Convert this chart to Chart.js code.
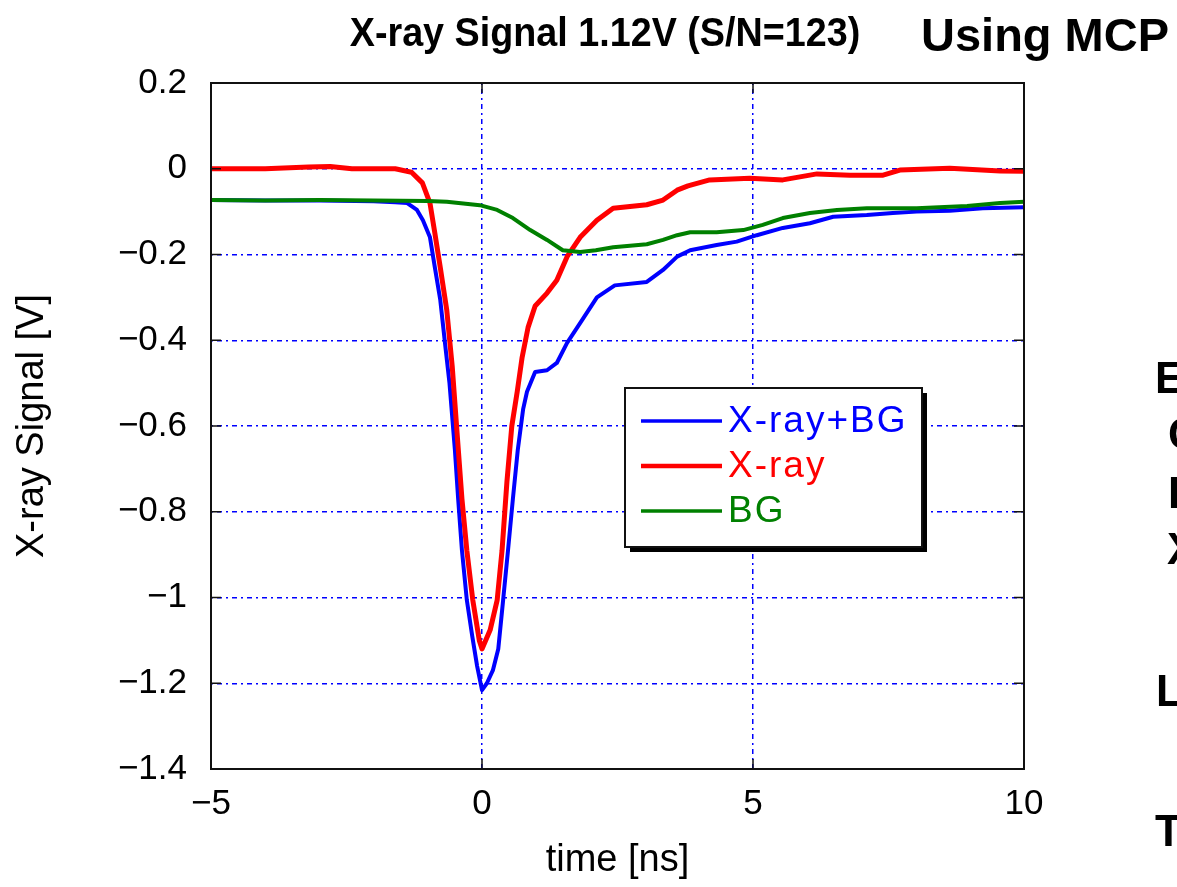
<!DOCTYPE html>
<html lang="en">
  <head>
    <meta charset="UTF-8"/>
    <title>X-ray Signal</title>
    <style>
      html, body { margin: 0; padding: 0; background: #fff; }
      #wrap { width: 1177px; height: 887px; }
    </style>
  </head>
  <body>
  <div id="wrap">
    <canvas id="myChart" width="1177" height="887"></canvas>
  </div>
  <script src="https://cdn.jsdelivr.net/npm/chart.js"></script>
  <script>
    // time [ns] and signal [V]
    const tBoth = [-5, -4, -3, -2, -1.6, -1.38, -1.2, -1.09, -0.96, -0.87, -0.77, -0.68, -0.6, -0.5, -0.44, -0.37, -0.28, -0.18, -0.09, 0,
      0.09, 0.2, 0.3, 0.39, 0.48, 0.57, 0.66, 0.76, 0.83, 0.98, 1.2, 1.38, 1.57, 1.81, 2.12, 2.45, 3.04, 3.34, 3.6, 3.84,
      4.33, 4.7, 5.07, 5.55, 6.05, 6.48, 7.1, 7.58, 8.02, 8.63, 9.24, 10];
    const vBoth = [-0.073, -0.074, -0.074, -0.076, -0.078, -0.08, -0.096, -0.12, -0.16, -0.23, -0.306, -0.41, -0.5, -0.656, -0.77, -0.89, -1.006, -1.09, -1.16, -1.216,
      -1.2, -1.17, -1.12, -1.006, -0.89, -0.77, -0.656, -0.56, -0.52, -0.474, -0.47, -0.453, -0.406, -0.36, -0.3, -0.272, -0.264, -0.236, -0.205, -0.19,
      -0.178, -0.17, -0.155, -0.138, -0.127, -0.112, -0.108, -0.103, -0.1, -0.098, -0.092, -0.09];

    const tXray = [-5, -4, -3.2, -2.8, -2.4, -1.6, -1.3, -1.1, -0.96, -0.87, -0.77, -0.65, -0.55, -0.46, -0.37, -0.28, -0.17, -0.05, 0,
      0.15, 0.28, 0.37, 0.46, 0.55, 0.65, 0.74, 0.85, 0.98, 1.2, 1.38, 1.57, 1.81, 2.12, 2.42, 3.04, 3.34, 3.6, 3.8,
      4.2, 4.94, 5.55, 6.18, 6.79, 7.4, 7.71, 8.63, 9.56, 10];
    const vXray = [0.0, 0.0, 0.004, 0.005, 0.0, 0.0, -0.008, -0.033, -0.08, -0.15, -0.23, -0.33, -0.46, -0.616, -0.77, -0.89, -1.006, -1.1, -1.12,
      -1.076, -1.006, -0.89, -0.73, -0.6, -0.52, -0.44, -0.37, -0.32, -0.29, -0.26, -0.205, -0.16, -0.12, -0.092, -0.084, -0.073, -0.05, -0.04,
      -0.026, -0.022, -0.026, -0.012, -0.015, -0.015, -0.003, 0.001, -0.005, -0.006];

    const tBG = [-5, -4, -3, -2, -1, -0.65, -0.04, 0.28, 0.57, 0.89, 1.2, 1.49, 1.81, 2.1, 2.42, 3.04, 3.34, 3.6, 3.84,
      4.33, 4.82, 5.18, 5.55, 6.05, 6.55, 7.1, 8.02, 8.95, 9.56, 10];
    const vBG = [-0.073, -0.074, -0.073, -0.074, -0.075, -0.077, -0.085, -0.096, -0.115, -0.143, -0.166, -0.19, -0.194, -0.19, -0.183, -0.176, -0.166, -0.155, -0.148,
      -0.148, -0.143, -0.131, -0.115, -0.103, -0.096, -0.092, -0.092, -0.087, -0.08, -0.077];

    const seriesNames = ['X-ray+BG', 'X-ray', 'BG'];
    const xTicks = [-5, 0, 5, 10];
    const yTicks = [0.2, 0, -0.2, -0.4, -0.6, -0.8, -1, -1.2, -1.4];

    function pts(t, v) {
      return t.map((x, i) => ({x: x, y: v[i]}));
    }
    function fmt(v) {
      return String(Number(v.toFixed(1))).replace('-', '\u2212');
    }

    const FONT = '"Liberation Sans", Arial, Helvetica, sans-serif';

    const data = {
      datasets: [{
        label: seriesNames[0],
        data: pts(tBoth, vBoth),
        borderColor: '#0000ff',
        borderWidth: 4,
        order: 3
      },
      {
        label: seriesNames[1],
        data: pts(tXray, vXray),
        borderColor: '#ff0000',
        borderWidth: 5,
        order: 2
      },
      {
        label: seriesNames[2],
        data: pts(tBG, vBG),
        borderColor: '#008000',
        borderWidth: 4,
        order: 1
      }]
    };

    // box, inward ticks, legend and the side texts
    const extras = {
      id: 'extras',
      afterDraw(chart) {
        const ctx = chart.ctx;
        const a = chart.chartArea;
        const xs = chart.scales.x, ys = chart.scales.y;
        ctx.save();
        ctx.strokeStyle = '#111';
        ctx.lineWidth = 2;
        ctx.strokeRect(a.left, a.top, a.right - a.left, a.bottom - a.top);
        ctx.lineWidth = 1.5;
        ctx.beginPath();
        xTicks.forEach(v => {
          const px = xs.getPixelForValue(v);
          ctx.moveTo(px, a.bottom); ctx.lineTo(px, a.bottom - 10);
          ctx.moveTo(px, a.top); ctx.lineTo(px, a.top + 10);
        });
        yTicks.forEach(v => {
          const py = ys.getPixelForValue(v);
          ctx.moveTo(a.left, py); ctx.lineTo(a.left + 10, py);
          ctx.moveTo(a.right, py); ctx.lineTo(a.right - 10, py);
        });
        ctx.stroke();

        // legend
        const L = 625, T = 388, W = 297, H = 159;
        ctx.fillStyle = '#000';
        ctx.fillRect(L + 5, T + 5, W, H);
        ctx.fillStyle = '#fff';
        ctx.fillRect(L, T, W, H);
        ctx.lineWidth = 2;
        ctx.strokeRect(L, T, W, H);
        ctx.font = '37px ' + FONT;
        ctx.letterSpacing = '2px';
        ctx.textBaseline = 'middle';
        ctx.textAlign = 'left';
        const rows = [421, 466, 511];
        [0, 1, 2].forEach(i => {
          const ds = chart.data.datasets[i];
          ctx.strokeStyle = ds.borderColor;
          ctx.lineWidth = ds.borderWidth - 0.5;
          ctx.beginPath();
          ctx.moveTo(641, rows[i]); ctx.lineTo(722, rows[i]);
          ctx.stroke();
          ctx.fillStyle = ds.borderColor;
          ctx.fillText(ds.label, 728, rows[i] + 1);
        });
        ctx.letterSpacing = '0px';

        // titles
        ctx.fillStyle = '#000';
        ctx.textBaseline = 'alphabetic';
        ctx.textAlign = 'center';
        ctx.font = 'bold 41px ' + FONT;
        ctx.save();
        ctx.translate(605, 46);
        ctx.scale(0.92, 1);
        ctx.fillText('X-ray Signal 1.12V (S/N=123)', 0, 0);
        ctx.restore();
        ctx.textAlign = 'left';
        ctx.font = 'bold 47px ' + FONT;
        ctx.fillText('Using MCP', 921, 51);
        ctx.font = 'bold 44px ' + FONT;
        [['E', 1155, 393], ['C', 1168, 449], ['I', 1168, 508], ['X', 1167, 564], ['L', 1156, 706], ['T', 1155, 846]]
          .forEach(s => ctx.fillText(s[0], s[1], s[2]));
        ctx.restore();
      }
    };

    const config = {
      type: 'line',
      data,
      options: {
        responsive: false,
        animation: false,
        layout: { padding: { top: 83, right: 153, left: 0, bottom: 0 } },
        elements: {
          line: { tension: 0, borderJoinStyle: 'round' },
          point: { radius: 0 }
        },
        plugins: {
          legend: { display: false },
          tooltip: { enabled: false }
        },
        scales: {
          x: {
            type: 'linear',
            min: -5,
            max: 10,
            afterFit(scale) { scale.height = 118; },
            afterBuildTicks(scale) { scale.ticks = xTicks.map(v => ({value: v})); },
            ticks: {
              color: '#000',
              padding: 14,
              maxRotation: 0,
              font: { family: FONT, size: 35 },
              callback: v => fmt(v)
            },
            grid: {
              color: '#0000ff',
              lineWidth: 1.5,
              drawTicks: false
            },
            border: { display: false, dash: [2, 4, 5, 4] },
            title: {
              display: true,
              text: 'time [ns]',
              color: '#000',
              font: { family: FONT, size: 38 },
              padding: { top: 0, bottom: 4 }
            }
          },
          y: {
            type: 'linear',
            min: -1.4,
            max: 0.2,
            afterFit(scale) { scale.width = 211; },
            afterBuildTicks(scale) { scale.ticks = yTicks.map(v => ({value: v})); },
            ticks: {
              color: '#000',
              padding: 24,
              font: { family: FONT, size: 35 },
              callback: v => fmt(v)
            },
            grid: {
              color: '#0000ff',
              lineWidth: 1.5,
              drawTicks: false
            },
            border: { display: false, dash: [2, 4, 5, 4] },
            title: {
              display: true,
              text: 'X-ray Signal [V]',
              color: '#000',
              font: { family: FONT, size: 38 },
              padding: { top: 10, bottom: 0 }
            }
          }
        }
      },
      plugins: [extras]
    };

    var myChart = new Chart(
      document.getElementById('myChart'),
      config
    );
</script>
  </body>
</html>
